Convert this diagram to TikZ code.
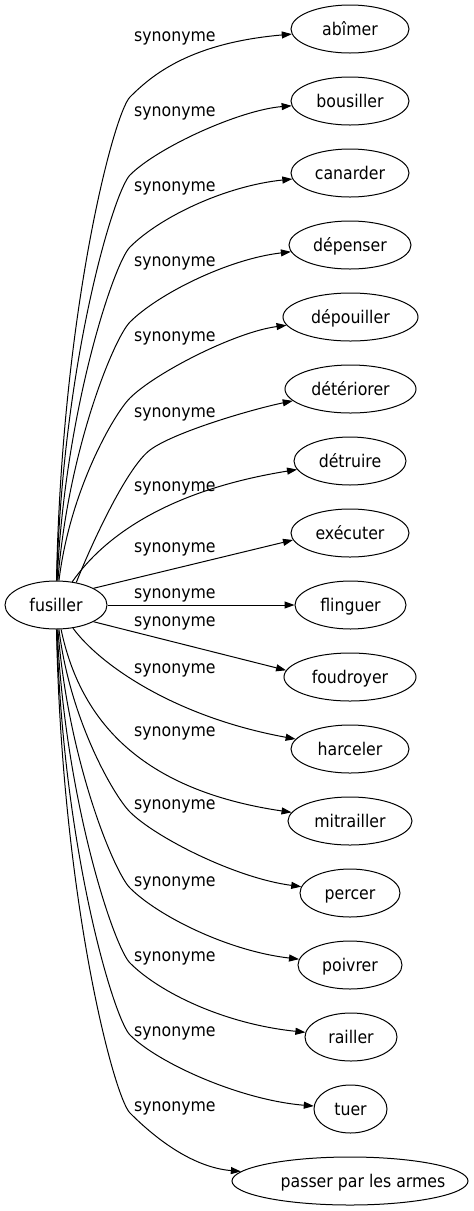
\documentclass[tikz,border=0pt]{standalone}
\usepackage{fontspec}
\setmainfont{DejaVu Sans Condensed}
\usetikzlibrary{shapes.geometric,arrows.meta}
\begin{document}
\begin{tikzpicture}[x=1pt,y=-1pt,
  every node/.style={font=\fontsize{17.5}{20}\selectfont},
  word/.style={draw, ellipse, line width=1pt, inner sep=0pt, minimum height=48pt, text height=13pt, text depth=1pt},
  lbl/.style={anchor=base west, inner sep=0pt},
  syn/.style={draw, line width=1pt, -{Triangle[length=10pt,width=7pt]}}]
\fill[white] (0,0) rectangle (474,1211);
\useasboundingbox (0,0) rectangle (474,1211);
% nodes
\node[word, minimum width=102pt] (fus) at (56,605) {fusiller};
\node[word, minimum width=118pt] (abimer) at (350,29) {abîmer};
\node[word, minimum width=118pt] (bousiller) at (350,101) {bousiller};
\node[word, minimum width=118pt] (canarder) at (350,173) {canarder};
\node[word, minimum width=122pt] (depenser) at (350,245) {dépenser};
\node[word, minimum width=135pt] (depouiller) at (350.5,317) {dépouiller};
\node[word, minimum width=131pt] (deteriorer) at (350.5,389) {détériorer};
\node[word, minimum width=112pt] (detruire) at (350,461) {détruire};
\node[word, minimum width=118pt] (executer) at (350,533) {exécuter};
\node[word, minimum width=111pt] (flinguer) at (350.5,605) {flinguer};
\node[word, minimum width=132pt] (foudroyer) at (350,677) {foudroyer};
\node[word, minimum width=118pt] (harceler) at (350,749) {harceler};
\node[word, minimum width=124pt] (mitrailler) at (350,821) {mitrailler};
\node[word, minimum width=100pt] (percer) at (350,893) {percer};
\node[word, minimum width=104pt] (poivrer) at (350,965) {poivrer};
\node[word, minimum width=92pt] (railler) at (351,1037) {railler};
\node[word, minimum width=73pt] (tuer) at (350.5,1109) {tuer};
\node[word, minimum width=236pt] (passer) at (350,1181) {\makebox[0pt]{\hspace{26pt}passer par les armes}};
% labels
\node[lbl] (l1) at (134,41) {synonyme};
\node[lbl] (l2) at (134,116) {synonyme};
\node[lbl] (l3) at (134,191.6) {synonyme};
\node[lbl] (l4) at (134,266.5) {synonyme};
\node[lbl] (l5) at (134,341.6) {synonyme};
\node[lbl] (l6) at (134,417) {synonyme};
\node[lbl] (l7) at (134,491) {synonyme};
\node[lbl] (l8) at (134,552.6) {synonyme};
\node[lbl] (l9) at (134,598.3) {synonyme};
\node[lbl] (l10) at (134,626) {synonyme};
\node[lbl] (l11) at (134,673.3) {synonyme};
\node[lbl] (l12) at (134,736) {synonyme};
\node[lbl] (l13) at (134,809.5) {synonyme};
\node[lbl] (l14) at (134,886) {synonyme};
\node[lbl] (l15) at (134,961) {synonyme};
\node[lbl] (l16) at (134,1036) {synonyme};
\node[lbl] (l17) at (134,1111) {synonyme};
% edges
\draw[syn] (fus) .. controls (62,310) and (114,113) .. (130,97) .. controls (152,75) and (190,43) .. (abimer);
\draw[syn] (fus) .. controls (63,360) and (114,191) .. (130,175) .. controls (158,147) and (240,110) .. (bousiller);
\draw[syn] (fus) .. controls (65,410) and (114,263) .. (130,247) .. controls (160,217) and (225,186) .. (canarder);
\draw[syn] (fus) .. controls (68,450) and (114,338) .. (130,322) .. controls (158,294) and (228,259) .. (depenser);
\draw[syn] (fus) .. controls (70,490) and (114,414) .. (130,398) .. controls (155,373) and (235,332) .. (depouiller);
\draw[syn] (fus.48) .. controls (89.4,549) and (126,468) .. (150,450) .. controls (174,432) and (253,409) .. (deteriorer);
\draw[syn] (fus) .. controls (105,535) and (170,490) .. (detruire);
\draw[syn] (fus.24) -- (executer.187);
\draw[syn] (fus) -- (flinguer);
\draw[syn] (fus.-24) -- (foudroyer.174);
\draw[syn] (fus) .. controls (100,665) and (175,717) .. (harceler);
\draw[syn] (fus) .. controls (80,720) and (140,790) .. (mitrailler);
\draw[syn] (fus) .. controls (70,720) and (114,796) .. (130,812) .. controls (155,837) and (235,878) .. (percer);
\draw[syn] (fus) .. controls (68,760) and (114,872) .. (130,888) .. controls (158,916) and (228,951) .. (poivrer);
\draw[syn] (fus) .. controls (65,800) and (114,947) .. (130,963) .. controls (160,993) and (225,1024) .. (railler);
\draw[syn] (fus) .. controls (63,850) and (114,1019) .. (130,1035) .. controls (158,1063) and (240,1100) .. (tuer);
\draw[syn] (fus) .. controls (62,900) and (114,1097) .. (130,1113) .. controls (152,1135) and (190,1167) .. (passer);
\end{tikzpicture}
\end{document}
